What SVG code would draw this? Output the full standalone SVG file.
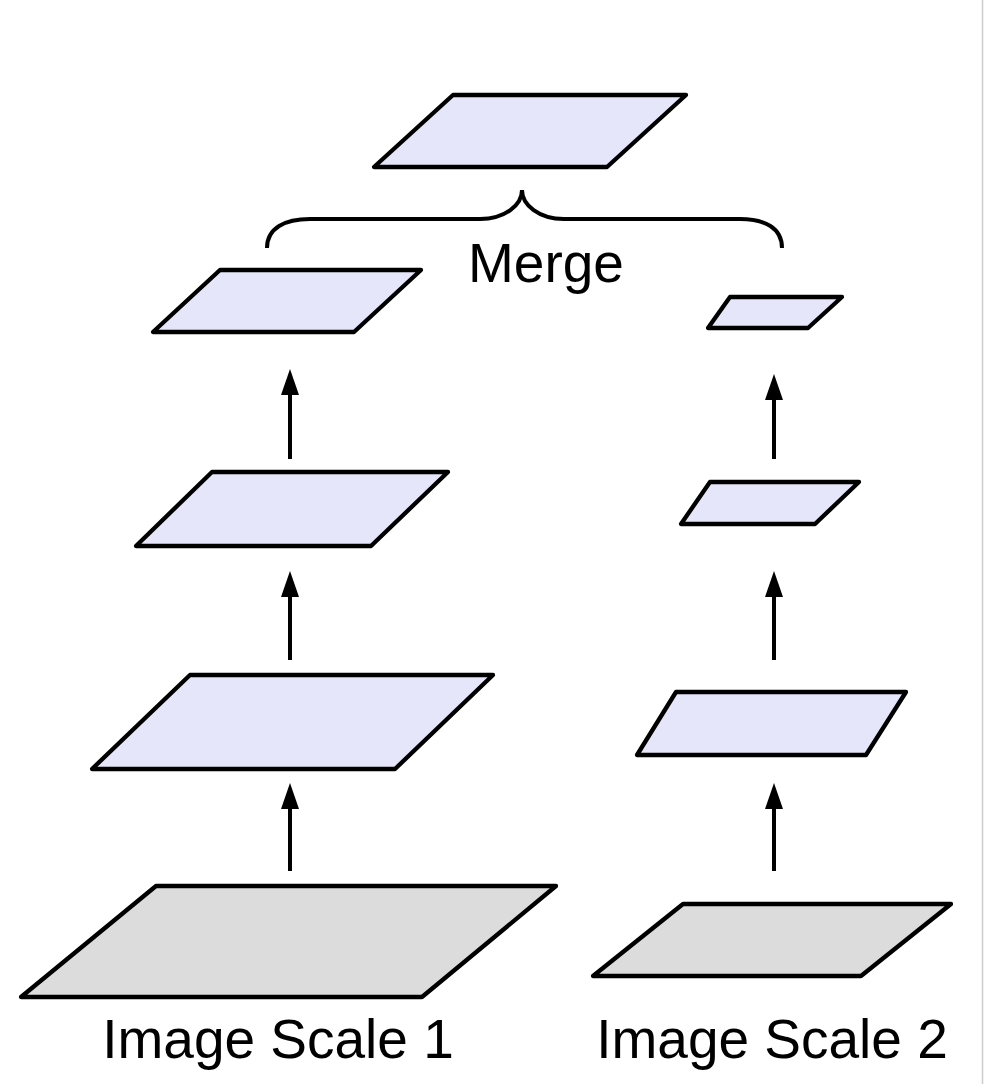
<svg xmlns="http://www.w3.org/2000/svg" width="984" height="1084" viewBox="0 0 984 1084">
<defs>
<style>
.p{fill:#e6e6fa;stroke:#000;stroke-width:4.3;stroke-linejoin:round}
.g{fill:#dcdcdc;stroke:#000;stroke-width:4.3;stroke-linejoin:round}
.a{stroke:#000;stroke-width:4;fill:none}
.t{font-family:"Liberation Sans",Arial,sans-serif;font-size:55px;fill:#000}
</style>
<marker id="ah" markerUnits="userSpaceOnUse" viewBox="0 0 26 18" refX="0" refY="9" markerWidth="26" markerHeight="18" orient="auto">
<path d="M0,0 L26,9 L0,18 z" fill="#000"/>
</marker>
</defs>
<rect width="984" height="1084" fill="#fff"/>
<line x1="982.5" y1="0" x2="982.5" y2="1084" stroke="#cccccc" stroke-width="1.5"/>
<g id="merged"><polygon class="p" points="453,95 686,95 607,167 374,167"/></g>
<g id="l1"><polygon class="p" points="220,270 421,270 354,332 153,332"/></g>
<g id="l2"><polygon class="p" points="212,472 448,472 371,546 136,546"/></g>
<g id="l3"><polygon class="p" points="190,675 493,675 395,769 92,769"/></g>
<g id="img1"><polygon class="g" points="156,886 556,886 422,997 21,997"/></g>
<g id="r1"><polygon class="p" points="730,297 842,297 808,328 708,328"/></g>
<g id="r2"><polygon class="p" points="710,482 859,482 815,524 681,524"/></g>
<g id="r3"><polygon class="p" points="676,692 906,692 866,755 637,755"/></g>
<g id="img2"><polygon class="g" points="683,904 951,904 861,976 593,976"/></g>
<g id="connectors">
<line class="a" x1="290" y1="459" x2="290" y2="395" marker-end="url(#ah)"/>
<line class="a" x1="290" y1="660" x2="290" y2="597" marker-end="url(#ah)"/>
<line class="a" x1="290" y1="871" x2="290" y2="809" marker-end="url(#ah)"/>
<line class="a" x1="774" y1="459" x2="774" y2="400" marker-end="url(#ah)"/>
<line class="a" x1="774" y1="660" x2="774" y2="597" marker-end="url(#ah)"/>
<line class="a" x1="774" y1="871" x2="774" y2="809" marker-end="url(#ah)"/>
<path class="a" d="M267,248 C267,228 285,219 310,219 L480,219 C505,219 522,205 522,190 C522,205 539,219 564,219 L740,219 C765,219 782,228 782,248"/>
</g>
<g id="labels">
<text class="t" x="546" y="282" text-anchor="middle">Merge</text>
<text class="t" x="278" y="1058" text-anchor="middle">Image Scale 1</text>
<text class="t" x="772" y="1058" text-anchor="middle">Image Scale 2</text>
</g>
</svg>
